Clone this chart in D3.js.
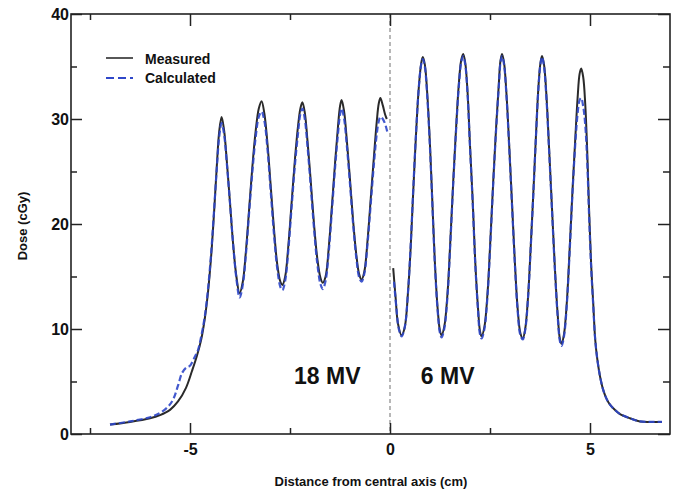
<!DOCTYPE html>
<html>
<head>
<meta charset="utf-8">
<script src="https://cdn.jsdelivr.net/npm/d3@7"></script>
<style>
  html, body { margin: 0; padding: 0; background: #fff; }
  svg { display: block; }
  text { font-family: "Liberation Sans", Arial, sans-serif; font-weight: bold; fill: #111; }
</style>
</head>
<body>
<svg id="chart" width="673" height="493"></svg>
<script>
// ---- data (distance in cm, dose in cGy) ----
const measured18 = [
  [-7.0,0.9],[-6.5,1.15],[-6.0,1.5],[-5.75,1.8],[-5.5,2.3],[-5.3,3.1],[-5.1,4.4],[-4.95,6.0],
  [-4.83,7.4],[-4.72,9.0],[-4.63,11.0],[-4.55,13.5],[-4.47,17.0],[-4.40,21.0],[-4.33,25.5],
  [-4.27,28.8],[-4.21,30.2],[-4.15,29.0],[-4.08,26.0],[-4.0,22.0],[-3.92,18.0],[-3.84,15.0],
  [-3.76,13.4],[-3.68,14.5],[-3.60,17.5],[-3.52,21.5],[-3.44,25.5],[-3.36,28.8],[-3.28,31.0],
  [-3.21,31.7],[-3.14,30.5],[-3.06,27.5],[-2.98,23.5],[-2.90,19.5],[-2.82,16.2],[-2.74,14.5],
  [-2.69,14.2],[-2.62,15.0],[-2.54,18.0],[-2.46,22.0],[-2.38,26.0],[-2.30,29.3],[-2.24,31.0],
  [-2.19,31.6],[-2.13,30.6],[-2.06,27.8],[-1.98,24.0],[-1.90,20.0],[-1.82,16.8],[-1.74,14.9],
  [-1.68,14.4],[-1.61,15.0],[-1.53,17.8],[-1.45,21.8],[-1.37,26.0],[-1.30,29.3],[-1.25,31.2],
  [-1.21,31.8],[-1.15,30.8],[-1.08,28.0],[-1.00,24.2],[-0.92,20.2],[-0.84,17.0],[-0.77,15.2],
  [-0.71,14.7],[-0.64,15.5],[-0.56,18.5],[-0.48,22.5],[-0.40,26.5],[-0.33,29.8],[-0.28,31.5],
  [-0.24,32.0],[-0.18,31.3],[-0.12,30.4],[-0.08,30.0]
];
const measured6 = [
  [0.08,15.8],[0.14,13.0],[0.20,10.5],[0.29,9.4],[0.37,10.2],[0.45,13.5],[0.52,18.0],[0.58,23.0],
  [0.65,28.5],[0.72,33.0],[0.78,35.3],[0.82,35.9],[0.87,35.2],[0.93,32.5],[1.00,27.5],[1.06,22.0],
  [1.12,16.5],[1.19,12.0],[1.25,9.8],[1.29,9.4],[1.36,10.3],[1.44,13.5],[1.51,18.5],[1.58,24.0],
  [1.65,29.0],[1.72,33.3],[1.78,35.6],[1.83,36.2],[1.88,35.4],[1.94,32.5],[2.00,27.5],[2.07,22.0],
  [2.13,16.5],[2.20,12.0],[2.25,9.8],[2.29,9.3],[2.36,10.2],[2.44,13.5],[2.51,18.5],[2.58,24.0],
  [2.65,29.0],[2.72,33.3],[2.76,35.5],[2.80,36.2],[2.85,35.4],[2.91,32.5],[2.98,27.5],[3.05,22.0],
  [3.12,16.5],[3.19,12.0],[3.26,9.6],[3.32,9.1],[3.38,10.0],[3.45,13.0],[3.52,18.0],[3.59,23.5],
  [3.65,28.5],[3.71,33.0],[3.76,35.3],[3.80,36.0],[3.85,35.2],[3.91,32.3],[3.98,27.0],[4.05,21.5],
  [4.12,16.0],[4.19,11.5],[4.25,9.0],[4.29,8.6],[4.35,9.5],[4.42,12.5],[4.49,17.5],[4.56,23.0],
  [4.63,28.0],[4.69,32.0],[4.74,34.3],[4.78,34.8],[4.83,34.0],[4.88,31.5],[4.93,27.0],[4.98,21.0],
  [5.03,16.0],[5.08,12.5],[5.13,9.0],[5.18,7.2],[5.25,5.5],[5.33,4.2],[5.42,3.3],[5.5,2.8],
  [5.62,2.3],[5.75,1.9],[6.0,1.5],[6.25,1.2],[6.5,1.15],[6.8,1.15]
];
const calculated18 = [
  [-7.0,0.9],[-6.5,1.2],[-6.0,1.6],[-5.75,2.0],[-5.55,2.6],[-5.42,3.3],[-5.3,4.6],[-5.2,5.8],
  [-5.1,6.3],[-5.0,6.5],[-4.9,7.2],[-4.8,8.0],[-4.72,9.3],[-4.63,11.2],[-4.55,13.8],[-4.47,17.3],
  [-4.40,21.2],[-4.33,25.3],[-4.27,28.3],[-4.21,29.6],[-4.15,28.6],[-4.08,25.8],[-4.00,22.0],
  [-3.92,18.0],[-3.84,14.8],[-3.76,13.0],[-3.68,14.2],[-3.60,17.2],[-3.52,21.2],[-3.44,25.0],
  [-3.36,28.2],[-3.28,30.2],[-3.21,30.7],[-3.14,29.8],[-3.06,27.0],[-2.98,23.0],[-2.90,19.0],
  [-2.82,15.8],[-2.74,14.0],[-2.69,13.7],[-2.62,14.6],[-2.54,17.6],[-2.46,21.6],[-2.38,25.5],
  [-2.30,28.6],[-2.24,30.5],[-2.19,31.0],[-2.13,30.0],[-2.06,27.3],[-1.98,23.5],[-1.90,19.6],
  [-1.82,16.3],[-1.74,14.3],[-1.68,13.8],[-1.61,14.6],[-1.53,17.4],[-1.45,21.4],[-1.37,25.5],
  [-1.30,28.6],[-1.25,30.4],[-1.21,31.0],[-1.15,30.1],[-1.08,27.5],[-1.00,23.8],[-0.92,19.9],
  [-0.84,16.7],[-0.77,14.9],[-0.71,14.5],[-0.64,15.3],[-0.56,18.2],[-0.48,22.0],[-0.40,25.8],
  [-0.33,28.6],[-0.28,29.8],[-0.24,30.2],[-0.18,30.0],[-0.12,29.5],[-0.07,28.8]
];
const calculated6 = [
  [0.10,14.5],[0.16,12.0],[0.22,10.0],[0.29,9.3],[0.37,10.2],[0.45,13.5],[0.52,18.2],[0.58,23.2],
  [0.65,28.6],[0.72,33.0],[0.78,35.2],[0.82,35.7],[0.87,35.0],[0.93,32.2],[1.00,27.2],[1.06,21.8],
  [1.12,16.3],[1.19,11.8],[1.25,9.6],[1.29,9.2],[1.36,10.1],[1.44,13.3],[1.51,18.3],[1.58,23.8],
  [1.65,28.8],[1.72,33.1],[1.78,35.4],[1.83,36.0],[1.88,35.2],[1.94,32.3],[2.00,27.3],[2.07,21.8],
  [2.13,16.3],[2.20,11.8],[2.25,9.5],[2.29,9.1],[2.36,10.0],[2.44,13.3],[2.51,18.3],[2.58,23.8],
  [2.65,28.8],[2.72,33.1],[2.76,35.3],[2.80,36.0],[2.85,35.2],[2.91,32.3],[2.98,27.3],[3.05,21.8],
  [3.12,16.3],[3.19,11.8],[3.26,9.4],[3.32,9.0],[3.38,9.9],[3.45,12.9],[3.52,17.9],[3.59,23.4],
  [3.65,28.4],[3.71,32.9],[3.76,35.2],[3.80,35.9],[3.85,35.0],[3.91,32.0],[3.98,26.8],[4.05,21.3],
  [4.12,15.8],[4.19,11.3],[4.25,8.8],[4.29,8.4],[4.35,9.3],[4.42,12.3],[4.49,17.3],[4.56,22.8],
  [4.63,27.5],[4.69,30.5],[4.74,31.8],[4.78,32.0],[4.83,31.2],[4.88,29.5],[4.93,26.0],[4.98,20.5],
  [5.03,15.8],[5.08,12.3],[5.13,9.0],[5.18,7.2],[5.25,5.5],[5.33,4.2],[5.42,3.3],[5.5,2.8],
  [5.62,2.3],[5.75,1.9],[6.0,1.5],[6.25,1.2],[6.5,1.15],[6.8,1.15]
];
const xMajorTicks = [-5, 0, 5];
const xMinorTicks = [-7.5, -2.5, 2.5];
const yMajorTicks = [0, 10, 20, 30, 40];
const yMinorTicks = [5, 15, 25, 35];
const legendLabels = ["Measured", "Calculated"];
const beamLabels = [{text: "18 MV", x: -2.4}, {text: "6 MV", x: 0.77}];

// ---- layout ----
const svg = d3.select("#chart");
const L = 71, R = 670, T = 14, B = 434;
const xs = d3.scaleLinear().domain([-7.975, 7]).range([L, R]);
const ys = d3.scaleLinear().domain([0, 40]).range([B, T]);

const g = svg.append("g");

// central dashed line
g.append("line")
  .attr("x1", xs(0)).attr("x2", xs(0)).attr("y1", T).attr("y2", B)
  .attr("stroke", "#888").attr("stroke-width", 1.2).attr("stroke-dasharray", "4,3");

// axes with inward ticks on all four sides
const axBottom = g.append("g").attr("transform", `translate(0,${B})`)
  .call(d3.axisBottom(xs).tickValues(xMajorTicks).tickSizeInner(-11).tickSizeOuter(0).tickPadding(10).tickFormat(d3.format("d")));
g.append("g").attr("transform", `translate(0,${B})`)
  .call(d3.axisBottom(xs).tickValues(xMinorTicks).tickSizeInner(-6).tickSizeOuter(0).tickFormat(""));
g.append("g").attr("transform", `translate(0,${T})`)
  .call(d3.axisTop(xs).tickValues(xMajorTicks).tickSizeInner(-12).tickSizeOuter(0).tickFormat(""));
g.append("g").attr("transform", `translate(0,${T})`)
  .call(d3.axisTop(xs).tickValues(xMinorTicks).tickSizeInner(-6).tickSizeOuter(0).tickFormat(""));
g.append("g").attr("transform", `translate(${L},0)`)
  .call(d3.axisLeft(ys).tickValues(yMajorTicks).tickSizeInner(-11).tickSizeOuter(0).tickPadding(2).tickFormat(d3.format("d")));
g.append("g").attr("transform", `translate(${L},0)`)
  .call(d3.axisLeft(ys).tickValues(yMinorTicks).tickSizeInner(-6).tickSizeOuter(0).tickFormat(""));
g.append("g").attr("transform", `translate(${R},0)`)
  .call(d3.axisRight(ys).tickValues(yMajorTicks).tickSizeInner(-12).tickSizeOuter(0).tickFormat(""));
g.append("g").attr("transform", `translate(${R},0)`)
  .call(d3.axisRight(ys).tickValues(yMinorTicks).tickSizeInner(-7).tickSizeOuter(0).tickFormat(""));

g.selectAll(".domain").remove();
g.selectAll(".tick line").attr("stroke", "#222").attr("stroke-width", 1.5);
g.selectAll(".tick text").attr("fill", "#111").style("font-size", "16px")
  .style("font-family", "'Liberation Sans', Arial, sans-serif").style("font-weight", "bold");
axBottom.selectAll(".tick text").text(d => d < 0 ? "-" + Math.abs(d) : d);

// frame
g.append("rect").attr("x", L).attr("y", T).attr("width", R - L).attr("height", B - T)
  .attr("fill", "none").attr("stroke", "#222").attr("stroke-width", 1.6);

// lines
const line = d3.line().x(d => xs(d[0])).y(d => ys(d[1])).curve(d3.curveCatmullRom.alpha(0.5));
[measured18, measured6].forEach(s => {
  g.append("path").datum(s).attr("d", line)
    .attr("fill", "none").attr("stroke", "#2a2a2a").attr("stroke-width", 2);
});
[calculated18, calculated6].forEach(s => {
  g.append("path").datum(s).attr("d", line)
    .attr("fill", "none").attr("stroke", "#2f47c9").attr("stroke-width", 2.2)
    .attr("stroke-dasharray", "6,3").attr("opacity", 0.9);
});

// legend
const lg = g.append("g");
lg.append("line").attr("x1", 106).attr("x2", 133).attr("y1", 58).attr("y2", 58)
  .attr("stroke", "#444").attr("stroke-width", 1.8);
lg.append("line").attr("x1", 106).attr("x2", 133).attr("y1", 78).attr("y2", 78)
  .attr("stroke", "#2f47c9").attr("stroke-width", 2).attr("stroke-dasharray", "8,4");
lg.selectAll("text.leg").data(legendLabels).enter().append("text")
  .attr("class", "leg").attr("x", 145).attr("y", (d, i) => 64 + i * 19)
  .style("font-size", "14px").text(d => d);

// beam labels
g.selectAll("text.beam").data(beamLabels).enter().append("text")
  .attr("class", "beam").attr("x", d => xs(d.x)).attr("y", 384)
  .style("font-size", "23px").text(d => d.text);

// axis titles
g.append("text").attr("x", 371).attr("y", 486).attr("text-anchor", "middle")
  .style("font-size", "13px").text("Distance from central axis (cm)");
g.append("text").attr("transform", "translate(27,226) rotate(-90)").attr("text-anchor", "middle")
  .style("font-size", "13px").text("Dose (cGy)");
</script>
</body>
</html>
